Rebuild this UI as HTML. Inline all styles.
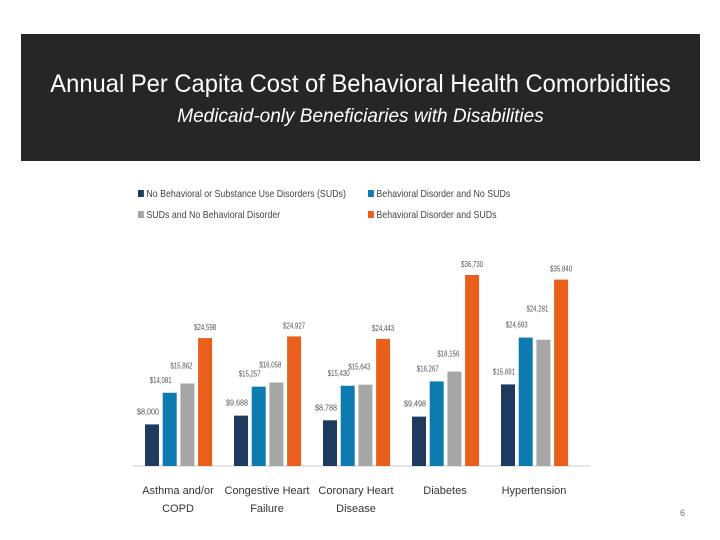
<!DOCTYPE html>
<html><head><meta charset="utf-8"><style>
body{margin:0;width:720px;height:540px;background:#fff;font-family:"Liberation Sans",sans-serif;overflow:hidden;position:relative}
#hdr{position:absolute;left:21px;top:34px;width:679px;height:127px;background:#262626;color:#fff;text-align:center}
#t1{position:absolute;top:36px;width:100%;font-size:25px;transform:scaleX(0.95)}
#t2{position:absolute;top:72px;width:100%;font-size:19px;font-style:italic}
.lg{position:absolute;font-size:10.5px;color:#444;transform:scaleX(0.84);transform-origin:left;white-space:nowrap}
.sw{display:inline-block;width:7px;height:7px;margin-right:3px}
</style></head><body>
<div id="hdr">
<div id="t1">Annual Per Capita Cost of Behavioral Health Comorbidities</div>
<div id="t2">Medicaid-only Beneficiaries with Disabilities</div>
</div>
<div class="lg" style="left:138px;top:188px"><span class="sw" style="background:#1f3a5f"></span>No Behavioral or Substance Use Disorders (SUDs)</div>
<div class="lg" style="left:368px;top:188px"><span class="sw" style="background:#0e7bb0"></span>Behavioral Disorder and No SUDs</div>
<div class="lg" style="left:138px;top:209px"><span class="sw" style="background:#a6a6a6"></span>SUDs and No Behavioral Disorder</div>
<div class="lg" style="left:368px;top:209px"><span class="sw" style="background:#e8601c"></span>Behavioral Disorder and SUDs</div>
<svg id="ch" width="720" height="540" style="position:absolute;left:0;top:0"></svg>
<div style="position:absolute;left:680px;top:508px;font-size:9px;color:#777">6</div>
<script>
const categories=[["Asthma and/or","COPD"],["Congestive Heart","Failure"],["Coronary Heart","Disease"],["Diabetes"],["Hypertension"]];
const noneVals=[8000,9688,8788,9498,15691];
const behavVals=[14081,15257,15430,16267,24693];
const sudVals=[15862,16058,15643,18156,24281];
const bothVals=[24598,24927,24443,36730,35840];
const series=[noneVals,behavVals,sudVals,bothVals];
const colors=["#1f3a5f","#0e7bb0","#a6a6a6","#e8601c"];
const names=["none","behavioral","suds","both"];
const labelDy=[10,10,15,8];
const labelDx=[-4,-9,-6,0];
const svg=document.getElementById('ch');const NS="http://www.w3.org/2000/svg";
const base=466,scale=191/36730;
const y=v=>base-v*scale;
const x=(g,s)=>145+g*89+s*17.7;
function mk(t,a){const e=document.createElementNS(NS,t);for(const k in a)e.setAttribute(k,a[k]);svg.appendChild(e);return e;}
const ax=mk('line',{x1:133,x2:590,y1:base,y2:base,stroke:'#ccc','stroke-width':1});


categories.forEach((c,g)=>{
 series.forEach((vals,s)=>{
  const v=vals[g];
  const r=mk('rect',{x:x(g,s),y:y(v),width:14,height:base-y(v),fill:colors[s]});
  
  
  let ty=y(v)-labelDy[s];
  if(s===2&&vals[g]<series[1][g]) ty=Math.min(ty,y(series[1][g])-labelDy[1]-16);
  const t=mk('text',{x:x(g,s)+7+labelDx[s],y:ty,'text-anchor':'middle','font-size':'8.5',fill:'#555',textLength:'22',lengthAdjust:'spacingAndGlyphs'});
  t.textContent='$'+v.toLocaleString('en-US');
  
  
 });
 c.forEach((line,i)=>{
  const t=mk('text',{x:x(g,0)+33,y:494+i*18,'text-anchor':'middle','font-size':'11',fill:'#333'});
  t.textContent=line;
  
  
 });
});
</script>
</body></html>
